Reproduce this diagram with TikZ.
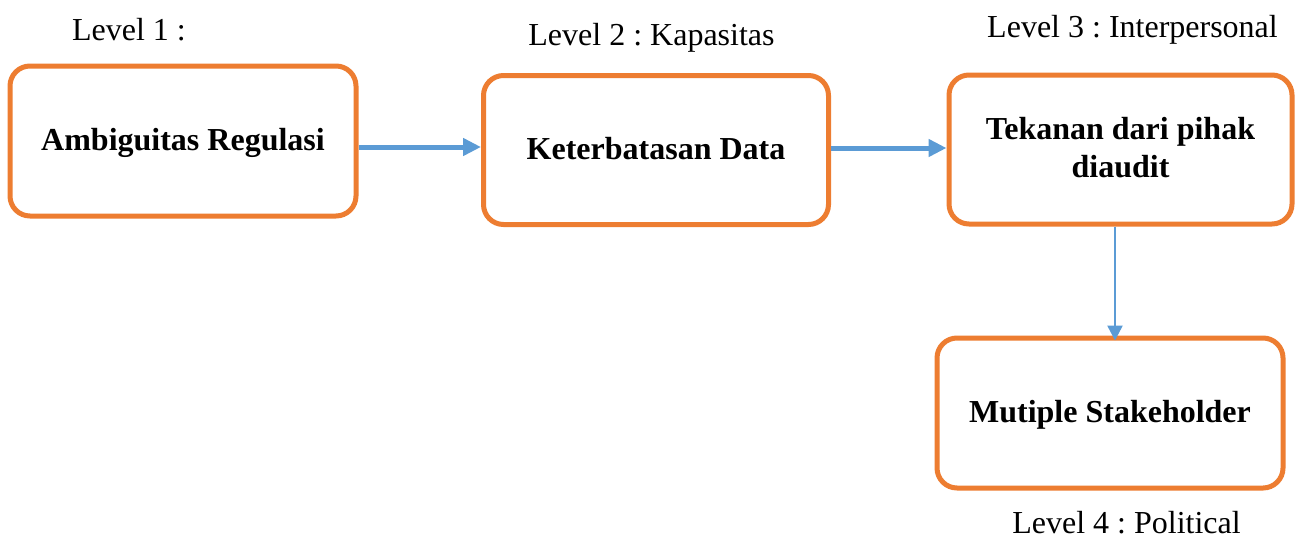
\documentclass[tikz,border=0pt]{standalone}
\usepackage{fontspec}
\setmainfont{Liberation Serif}
\frenchspacing
\usetikzlibrary{arrows.meta}
\definecolor{boxorange}{HTML}{ED7D31}
\definecolor{arrblue}{HTML}{5B9BD5}
\tikzset{
  stagebox/.style={draw=boxorange, line width=5pt, rounded corners=20pt, fill=white,
    align=center, font=\fontsize{32}{38}\selectfont\bfseries,
    text height=22pt, text depth=4pt, inner sep=0pt},
  levellabel/.style={anchor=base, inner sep=0pt, font=\fontsize{32}{38}\selectfont\frenchspacing},
  thickarrow/.style={draw=arrblue, line width=5pt, -{Triangle[length=18pt,width=17pt]}},
  thinarrow/.style={draw=arrblue, line width=2.5pt, -{Triangle[length=15pt,width=15pt]}}
}
\begin{document}
\begin{tikzpicture}[x=1pt,y=-1pt]
\useasboundingbox (0,0) rectangle (1295,539);
\node[stagebox, minimum width=346pt, minimum height=150pt] (b1) at (183,141) {Ambiguitas Regulasi};
\node[stagebox, minimum width=345pt, minimum height=149pt] (b2) at (656,150) {Keterbatasan Data};
\node[stagebox, minimum width=343pt, minimum height=149pt, text height=60pt] (b3) at (1120.5,149.5) {Tekanan dari pihak\\diaudit};
\node[stagebox, minimum width=346pt, minimum height=150pt] (b4) at (1110,413) {Mutiple Stakeholder};

\node[levellabel] (l1) at (129,40) {Level 1 :};
\node[levellabel] (l2) at (651.5,45) {Level 2 : Kapasitas};
\node[levellabel] (l3) at (1132.5,37) {Level 3 : Interpersonal};
\node[levellabel] (l4) at (1126.5,533) {Level 4 : Political};

\draw[thickarrow] ([yshift=-6pt]b1.east) -- ([yshift=-6pt]b1.east -| b2.west);
\draw[thickarrow] ([yshift=2pt]b2.east) -- ([yshift=2pt]b2.east -| b3.west);
\draw[thinarrow, shorten >=-5pt] ([xshift=-5.5pt]b3.south) -- ([xshift=-5.5pt]b3.south |- b4.north);
\end{tikzpicture}
\end{document}
